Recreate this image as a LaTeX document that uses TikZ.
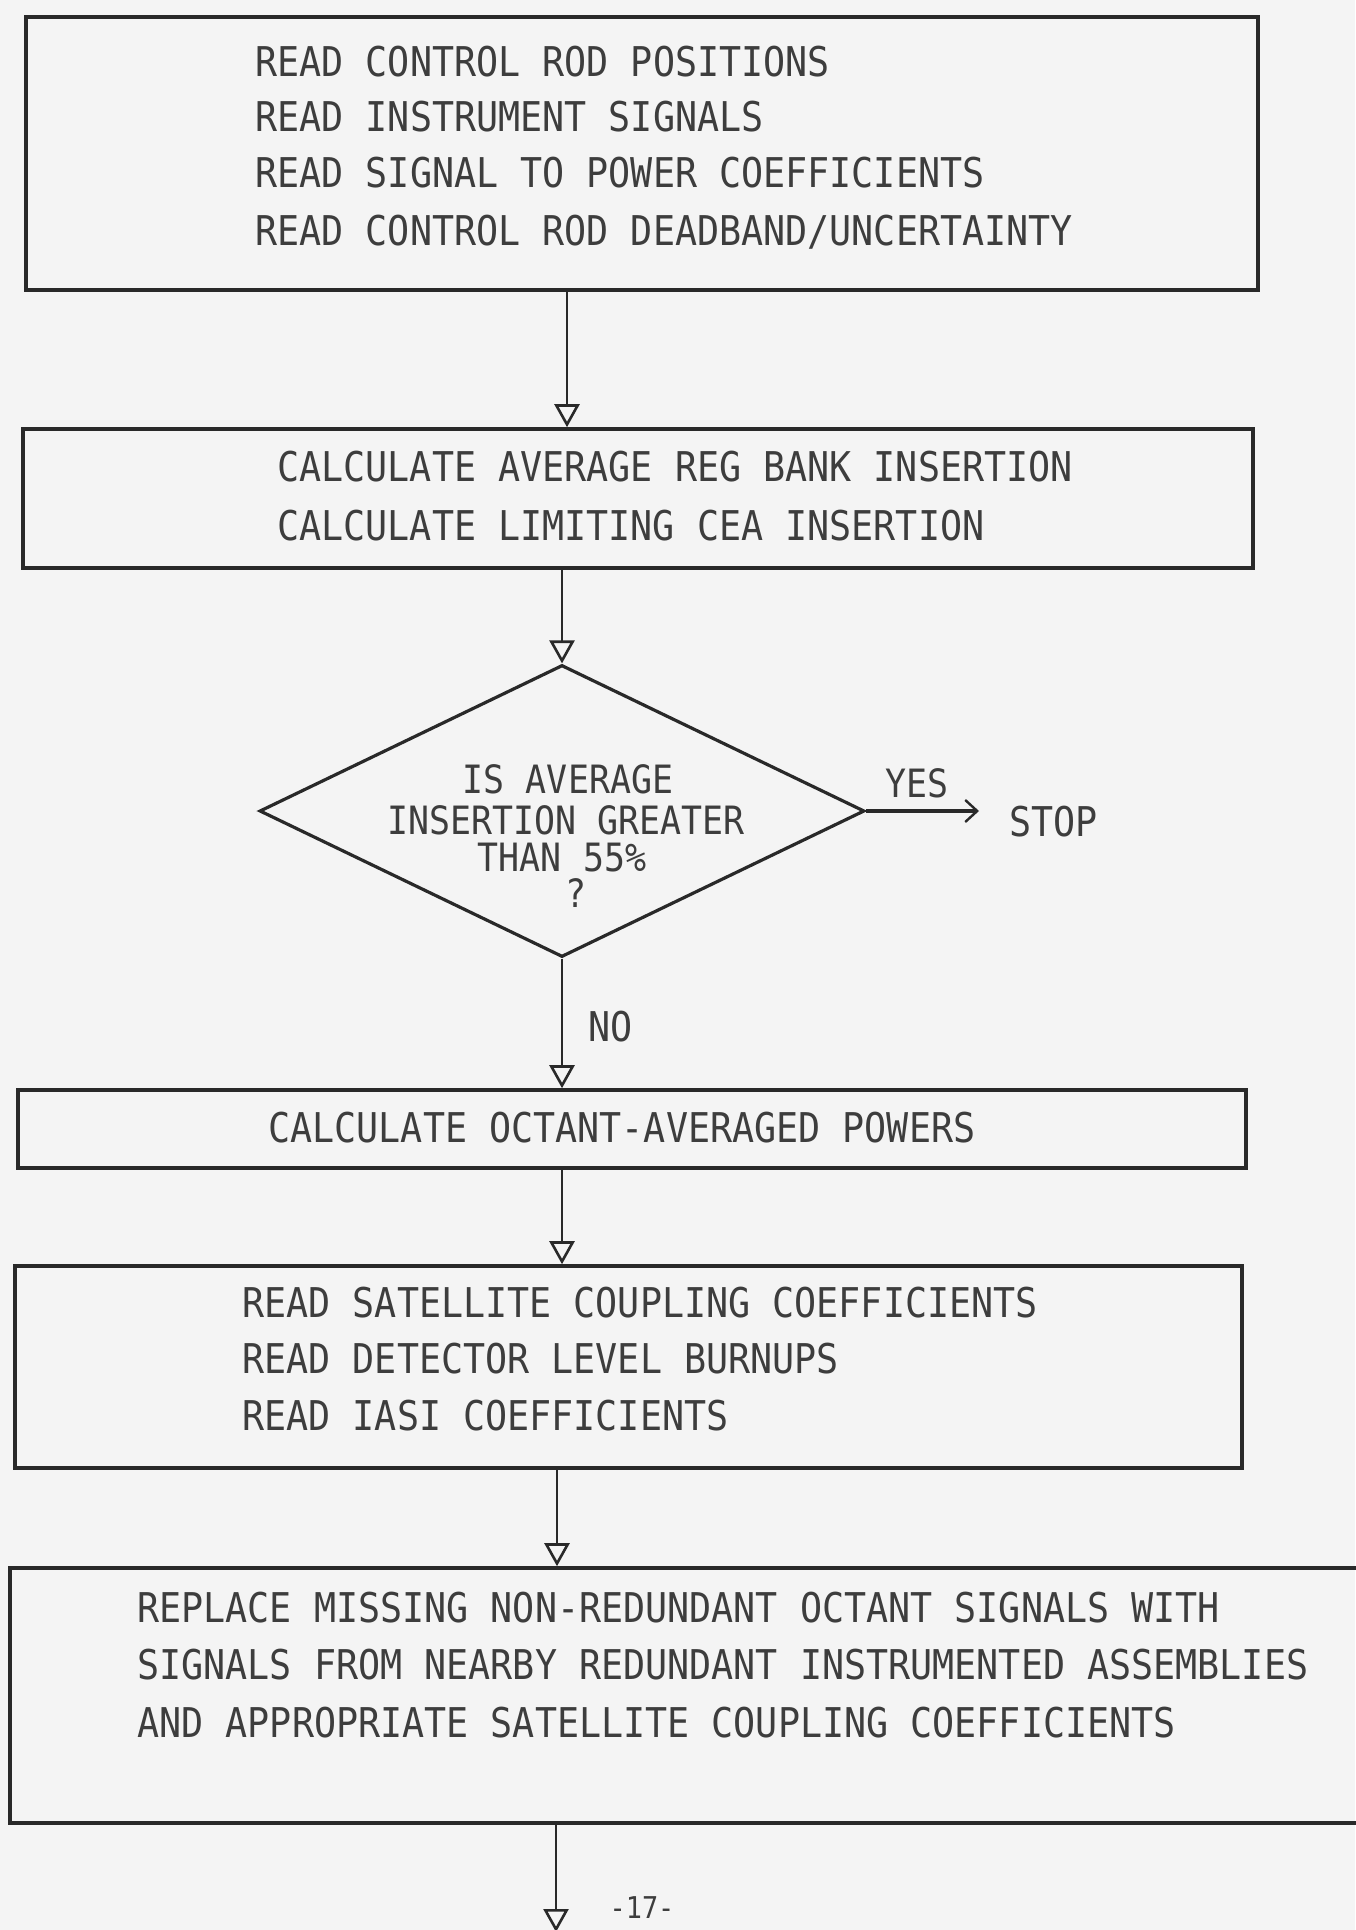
\documentclass[tikz,border=0pt]{standalone}
\usepackage{fontspec}
\newfontfamily\tw[FakeStretch=0.895]{DejaVu Sans Mono}
\usetikzlibrary{arrows.meta,fit,shapes.geometric}
\definecolor{paper}{gray}{0.955}
\definecolor{ink}{gray}{0.16}
\definecolor{txtc}{gray}{0.24}
\tikzset{
  box/.style={draw=ink, line width=1.8pt, inner sep=0pt, rectangle},
  lbl/.style={text=txtc, font={\tw\fontsize{20.5pt}{24pt}\selectfont}, inner sep=0pt, anchor=base west},
  dlbl/.style={text=txtc, font={\tw\fontsize{19.5pt}{23pt}\selectfont}, inner sep=0pt, anchor=base},
  diam/.style={shape=diamond, draw=ink, line width=1.6pt, inner sep=0pt, minimum width=302.5pt, minimum height=146pt},
  conn/.style={draw=ink, line width=1.3pt, -{Triangle[open, length=11.5pt, width=12.5pt, line width=1.3pt]}},
  yesarrow/.style={draw=ink, line width=1.8pt, -{Straight Barb[length=6pt, width=11pt, line width=1.2pt]}},
}
\begin{document}
\begin{tikzpicture}[x=0.5pt,y=-0.5pt]
\fill[paper] (0,0) rectangle (1355,1930);
\useasboundingbox (0,0) rectangle (1355,1930);

% column coordinates for connectors
\coordinate (c1) at (567,0);
\coordinate (c2) at (562,0);
\coordinate (c3) at (557,0);
\coordinate (endpt) at (556,1932);

% boxes
\node[box, fit={(26,17) (1258,290)}] (b1) {};
\node[box, fit={(23,429) (1253,568)}] (b2) {};
\node[diam] (d) at (562,811) {};
\node[box, fit={(18,1090) (1246,1168)}] (b3) {};
\node[box, fit={(15,1266) (1242,1468)}] (b4) {};
\node[box, fit={(10,1568) (1385,1823)}] (b5) {};

% box 1 text
\node[lbl] (t11) at (255,77) {READ CONTROL ROD POSITIONS};
\node[lbl] (t12) at (255,132) {READ INSTRUMENT SIGNALS};
\node[lbl] (t13) at (255,188) {READ SIGNAL TO POWER COEFFICIENTS};
\node[lbl] (t14) at (255,246) {READ CONTROL ROD DEADBAND/UNCERTAINTY};
% box 2 text
\node[lbl] (t21) at (277,482) {CALCULATE AVERAGE REG BANK INSERTION};
\node[lbl] (t22) at (277,540) {CALCULATE LIMITING CEA INSERTION};
% diamond text
\node[dlbl] (q1) at (568,793) {IS AVERAGE};
\node[dlbl] (q2) at (566,834) {INSERTION GREATER};
\node[dlbl] (q3) at (562,871) {THAN 55\%};
\node[dlbl] (q4) at (576,907) {?};
% box 3 text
\node[lbl] (t31) at (268,1142) {CALCULATE OCTANT-AVERAGED POWERS};
% box 4 text
\node[lbl] (t41) at (242,1317) {READ SATELLITE COUPLING COEFFICIENTS};
\node[lbl] (t42) at (242,1373) {READ DETECTOR LEVEL BURNUPS};
\node[lbl] (t43) at (242,1430) {READ IASI COEFFICIENTS};
% box 5 text
\node[lbl] (t51) at (137,1622) {REPLACE MISSING NON-REDUNDANT OCTANT SIGNALS WITH};
\node[lbl] (t52) at (137,1679) {SIGNALS FROM NEARBY REDUNDANT INSTRUMENTED ASSEMBLIES};
\node[lbl] (t53) at (137,1737) {AND APPROPRIATE SATELLITE COUPLING COEFFICIENTS};

% stop and labels
\node[lbl] (stop) at (1009,836) {STOP};
\node[dlbl] (yes) at (917,797) {YES};
\node[lbl] (no) at (588,1041) {NO};
\node[dlbl, font={\tw\fontsize{15pt}{17pt}\selectfont}, anchor=center] (pg) at (642,1908) {-17-};

% connectors
\draw[conn] (b1.south -| c1) -- (b2.north -| c1);
\draw[conn] (b2.south -| d.north) -- (d.north);
\draw[conn] (d.south) -- (b3.north -| d.south);
\draw[conn] (b3.south -| c2) -- (b4.north -| c2);
\draw[conn] (b4.south -| c3) -- (b5.north -| c3);
\draw[conn] (b5.south -| endpt) -- (endpt);
\draw[yesarrow, shorten >=15pt] (d.east) -- (d.east -| stop.west);
\end{tikzpicture}
\end{document}
